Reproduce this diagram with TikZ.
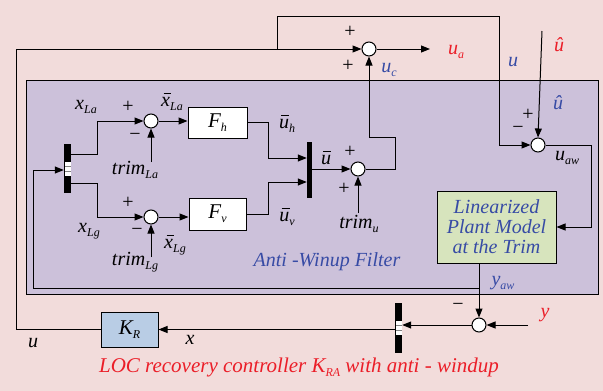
\documentclass[tikz,border=0pt]{standalone}
\usepackage{fontspec}
\setmainfont{Liberation Serif}
\usetikzlibrary{arrows.meta}
\definecolor{bgpink}{RGB}{242,220,219}
\definecolor{awpurple}{RGB}{204,193,218}
\definecolor{plantgreen}{RGB}{215,228,189}
\definecolor{kblue}{RGB}{185,205,229}
\definecolor{tblue}{RGB}{55,75,165}
\definecolor{tred}{RGB}{235,30,40}
\newcommand\lsub[1]{\raisebox{-0.45ex}{\fontsize{12}{12}\selectfont\itshape #1}}
\newcommand\ovl[1]{\leavevmode\setbox0\hbox{#1}\rlap{\hskip0.12em\raisebox{0.62em}{\rule{0.8\wd0}{0.05em}}}\box0}
\tikzset{
 sumnode/.style={circle, draw, fill=white, line width=1pt, minimum size=14pt, inner sep=0pt},
 blockbox/.style={draw, line width=1pt, inner sep=0pt},
 muxbar/.style={fill=black, draw=none, inner sep=0pt},
 sig/.style={line width=1pt},
 arr/.style={sig, -{Triangle[length=9pt,width=7pt]}},
 lbl/.style={font=\fontsize{20}{20}\selectfont\itshape, inner sep=0pt},
 pm/.style={font=\fontsize{20}{20}\selectfont, inner sep=0pt},
 stripe/.style={fill=white, draw=none},
}
\begin{document}
\begin{tikzpicture}[x=1pt,y=-1pt]
\fill[bgpink] (0,0) rectangle (603,391);
\useasboundingbox (0,0) rectangle (603,391);
% anti-windup region
\draw[fill=awpurple, line width=1pt] (26,80) rectangle (598,294);

% summing junctions
\node[sumnode] (sumA) at (369,49) {};
\node[sumnode] (sumU) at (358,169) {};
\node[sumnode] (sumAW) at (538,145) {};
\node[sumnode] (sumLa) at (151,121) {};
\node[sumnode] (sumLg) at (151,217) {};
\node[sumnode] (sumY) at (479,325) {};

% blocks
\node[blockbox, fill=white, minimum width=59pt, minimum height=31pt] (Fh) at (217.5,122.5) {\fontsize{21}{21}\selectfont\itshape F\lsub{h}};
\node[blockbox, fill=white, minimum width=57pt, minimum height=32pt] (Fv) at (217.5,214) {\fontsize{21}{21}\selectfont\itshape F\lsub{v}};
\node[blockbox, fill=plantgreen, minimum width=119pt, minimum height=72pt, align=center, text=tblue, font=\fontsize{20}{20}\selectfont\itshape] (Plant) at (496.5,227) {Linearized\\Plant Model\\at the Trim};
\node[blockbox, fill=kblue, minimum width=57pt, minimum height=35pt] (KR) at (129.5,329.5) {\fontsize{21}{21}\selectfont\itshape K\lsub{R}};

% mux bars
\node[muxbar, minimum width=7pt, minimum height=49pt] (demux) at (67.5,168.5) {};
\fill[stripe] (64.5,162) rectangle (70.5,176);
\fill[gray] (64.5,166) rectangle (70.5,167.3);
\fill[gray] (64.5,171) rectangle (70.5,172.3);
\node[muxbar, minimum width=5pt, minimum height=56pt] (muxU) at (309.5,170) {};
\node[muxbar, minimum width=7pt, minimum height=50pt] (muxB) at (398.5,328) {};
\fill[stripe] (395.5,321) rectangle (401.5,335);
\fill[gray] (395.5,325) rectangle (401.5,326.3);
\fill[gray] (395.5,330) rectangle (401.5,331.3);

% coordinates
\coordinate (uTop) at (277,49);
\coordinate (uhatIn) at (542,31);
\coordinate (yIn) at (528,325);
\coordinate (uaOut) at (430,49);
\coordinate (fbSplit) at (479,288);
\coordinate (trimLaIn) at (151,162);
\coordinate (trimLgIn) at (151,257);
\coordinate (trimUIn) at (358,213);

% outer loop u
\draw[arr] (KR.west) -- (16,329.5) -- (16,49) -- (sumA.west);
\draw[arr] (uTop) -- (277,16) -- (499,16) -- (499,145) -- (sumAW.west);
\draw[arr] (sumA.east) -- (uaOut);
\draw[arr] (sumU.east) -- (395,169) -- (395,137) -- (369,137) -- (sumA.south);
\draw[arr] (uhatIn) -- (sumAW.north);
\draw[arr] (sumAW.east) -- (591,145) -- (591,227) -- (Plant.east);
\draw[arr] (sumY |- Plant.south) -- (sumY.north);
\draw[arr] (fbSplit) -- (33,288) -- (33,170) -- (demux.west |- 0,170);
\draw[arr] (yIn) -- (sumY.east);
\draw[arr] (sumY.west) -- (muxB.east |- sumY.west);
\draw[arr] (muxB.west |- KR.east) -- (KR.east);

% inside filter
\draw[arr] (demux.east |- 0,154) -- (97,154) -- (97,121) -- (sumLa.west);
\draw[arr] (demux.east |- 0,183) -- (97,183) -- (97,217) -- (sumLg.west);
\draw[arr] (trimLaIn) -- (sumLa.south);
\draw[arr] (trimLgIn) -- (sumLg.south);
\draw[arr] (sumLa.east) -- (sumLa.east -| Fh.west);
\draw[arr] (sumLg.east) -- (sumLg.east -| Fv.west);
\draw[arr] (Fh.east) -- (268,122.5) -- (268,158) -- (muxU.west |- 0,158);
\draw[arr] (Fv.east) -- (268,214) -- (268,182) -- (muxU.west |- 0,182);
\draw[arr] (muxU.east |- sumU.west) -- (sumU.west);
\draw[arr] (trimUIn) -- (sumU.south);

% labels
\node[pm] (pA1) at (350,32) {+};
\node[pm] (pA2) at (348,66) {+};
\node[lbl, text=tred] (lua) at (456,52) {u\lsub{a}};
\node[lbl, text=tblue] (luc) at (389,70) {u\lsub{c}};
\node[lbl, text=tblue] (lu1) at (513,62) {u};
\node[lbl, text=tred] (luh1) at (559,45) {\^u};
\node[lbl, text=tblue] (luh2) at (558,103) {\^u};
\node[pm] (pAW1) at (528,115) {+};
\node[pm] (pAW2) at (518,130) {−};
\node[lbl] (luaw) at (567,158) {u\lsub{aw}};

\node[lbl] (lxLa) at (86,107) {x\lsub{La}};
\node[pm] (pLa1) at (128,107) {+};
\node[pm] (pLa2) at (135,137) {−};
\node[lbl] (lxbLa) at (172,102) {\ovl{x}\lsub{La}};
\node[lbl] (ltLa) at (135,170) {trim\lsub{La}};
\node[lbl] (lubh) at (287,124) {\ovl{u}\lsub{h}};

\node[lbl] (lxLg) at (89,231) {x\lsub{Lg}};
\node[pm] (pLg1) at (128,203) {+};
\node[pm] (pLg2) at (137,232) {−};
\node[lbl] (lxbLg) at (175,245) {\ovl{x}\lsub{Lg}};
\node[lbl] (ltLg) at (135,262) {trim\lsub{Lg}};
\node[lbl] (lubv) at (287,217) {\ovl{u}\lsub{v}};

\node[lbl] (lub) at (326,158) {\ovl{u}};
\node[pm] (pU1) at (350,152) {+};
\node[pm] (pU2) at (344,189) {+};
\node[lbl] (ltU) at (359,224) {trim\lsub{u}};

\node[lbl, text=tblue] (lfilt) at (327,262) {Anti -Winup Filter};
\node[lbl, text=tblue] (lyaw) at (503,283) {y\lsub{aw}};
\node[pm] (pY) at (458,307) {−};
\node[lbl, text=tred] (ly) at (545,315) {y};
\node[lbl] (lx) at (190,340) {x};
\node[lbl] (lu2) at (33,343) {u};
\node[lbl, text=tred, font=\fontsize{21}{21}\selectfont\itshape] (ltitle) at (299,367) {LOC recovery controller K\lsub{RA} with anti - windup};
\end{tikzpicture}
\end{document}
